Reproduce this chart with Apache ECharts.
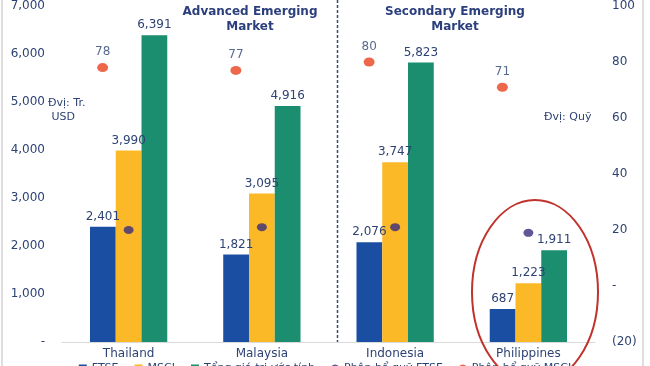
<!DOCTYPE html>
<html>
<head>
<meta charset="utf-8">
<script src="https://cdn.jsdelivr.net/npm/echarts@6/dist/echarts.min.js"></script>
<style>html,body{margin:0;padding:0;background:#fff}#c{width:650px;height:366px}</style>
</head>
<body>
<div id="c"></div>
<script>
const categories = ['Thailand', 'Malaysia', 'Indonesia', 'Philippines'];
const ftseValues = [2401, 1821, 2076, 687];
const msciValues = [3990, 3095, 3747, 1223];
const totalValues = [6391, 4916, 5823, 1911];
const msciFunds = [78, 77, 80, 71];
const ftseFunds = [20, 21, 21, 19];
const seriesNames = ['FTSE', 'MSCI', 'Tổng giá trị ước tính', 'Phân bổ quỹ FTSE', 'Phân bổ quỹ MSCI'];
const groupTitles = ['Advanced Emerging\nMarket', 'Secondary Emerging\nMarket'];
const unitLeft = 'Đvị: Tr.\n USD';
const unitRight = 'Đvị: Quỹ';

const FONT = 'DejaVu Sans';
const TXT = '#2e4374';
const chart = echarts.init(document.getElementById('c'), null, {renderer: 'canvas'});
const fmtLeft = v => v === 0 ? '-' : v.toLocaleString('en-US');
const fmtRight = v => v === 0 ? '-' : (v < 0 ? '(' + Math.abs(v) + ')' : String(v));
const barLabel = {show: true, position: 'top', color: TXT, fontFamily: FONT, fontSize: 12, distance: 4, formatter: p => p.value.toLocaleString('en-US')};

chart.setOption({
  animation: false,
  backgroundColor: '#fff',
  textStyle: {fontFamily: FONT},
  grid: {left: 62, right: 55, top: 6, bottom: 24, containLabel: false},
  legend: {
    top: 358, left: 'center', itemWidth: 8, itemHeight: 8, itemGap: 16,
    textStyle: {color: TXT, fontSize: 11, fontFamily: FONT},
    data: [
      {name: seriesNames[0], icon: 'rect'}, {name: seriesNames[1], icon: 'rect'}, {name: seriesNames[2], icon: 'rect'},
      {name: seriesNames[3], icon: 'circle'}, {name: seriesNames[4], icon: 'circle'}
    ]
  },
  xAxis: {
    type: 'category', data: categories,
    axisLine: {lineStyle: {color: '#d9d9d9'}}, axisTick: {show: false},
    axisLabel: {color: TXT, fontSize: 12, fontFamily: FONT, margin: 6}
  },
  yAxis: [
    {type: 'value', min: 0, max: 7000, interval: 1000, splitLine: {show: false},
     axisLine: {show: false}, axisTick: {show: false},
     axisLabel: {color: TXT, fontSize: 12, fontFamily: FONT, margin: 17, formatter: fmtLeft}},
    {type: 'value', min: -20, max: 100, interval: 20, splitLine: {show: false},
     axisLine: {show: false}, axisTick: {show: false},
     axisLabel: {color: TXT, fontSize: 12, fontFamily: FONT, margin: 17, formatter: fmtRight}}
  ],
  series: [
    {name: seriesNames[0], type: 'bar', data: ftseValues, barGap: '0%', barCategoryGap: '42%', itemStyle: {color: '#1a4ea2'}, label: barLabel},
    {name: seriesNames[1], type: 'bar', data: msciValues, itemStyle: {color: '#fbb928'}, label: barLabel},
    {name: seriesNames[2], type: 'bar', data: totalValues, itemStyle: {color: '#1a8e6f'}, label: barLabel},
    {name: seriesNames[3], type: 'scatter', yAxisIndex: 1, data: ftseFunds, symbol: 'circle', symbolSize: [10, 8],
     itemStyle: {color: '#3a2c7c'}, z: 5},
    {name: seriesNames[4], type: 'scatter', yAxisIndex: 1, data: msciFunds, symbol: 'circle', symbolSize: [11, 9], symbolOffset: [-26, 0],
     itemStyle: {color: '#e8411e'}, z: 5,
     label: {show: true, position: 'top', distance: 5, color: TXT, fontSize: 12, fontFamily: FONT}}
  ],
  graphic: [
    {type: 'rect', shape: {x: 2, y: -2, width: 641, height: 372}, style: {fill: 'none', stroke: '#bdbdbd', lineWidth: 1}, silent: true},
    {type: 'line', shape: {x1: 337.5, y1: 0, x2: 337.5, y2: 342}, style: {stroke: '#3b4a6e', lineWidth: 1.5, lineDash: [3, 2]}, silent: true},
    {type: 'text', x: 250, y: 4, style: {text: groupTitles[0], fill: '#2b3f7c', font: 'bold 12px "DejaVu Sans"', textAlign: 'center', lineHeight: 15}},
    {type: 'text', x: 455, y: 4, style: {text: groupTitles[1], fill: '#2b3f7c', font: 'bold 12px "DejaVu Sans"', textAlign: 'center', lineHeight: 15}},
    {type: 'text', x: 48, y: 96, style: {text: unitLeft, fill: TXT, font: '11px "DejaVu Sans"', lineHeight: 14}},
    {type: 'text', x: 544, y: 112, style: {text: unitRight, fill: TXT, font: '11px "DejaVu Sans"'}},
    {type: 'ellipse', shape: {cx: 535, cy: 292, rx: 63, ry: 92}, style: {fill: 'none', stroke: '#c0322b', lineWidth: 2}, silent: true, z: 100}
  ]
});
</script>
</body>
</html>
